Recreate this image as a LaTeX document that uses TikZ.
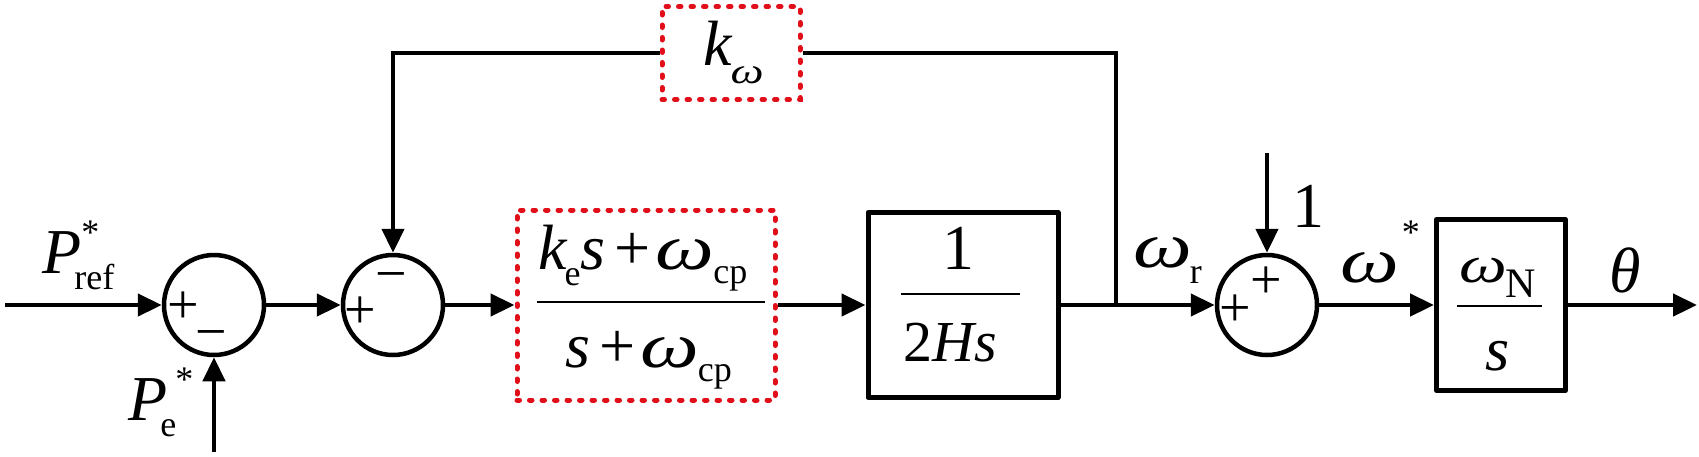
\documentclass[tikz,border=0pt]{standalone}
\usepackage{fontspec}
\usepackage{graphicx}
\setmainfont{Liberation Serif}
\usetikzlibrary{arrows.meta}
\definecolor{dred}{RGB}{225,15,25}
\newcommand{\bigf}{\fontsize{64}{66}\selectfont}
\newcommand{\smf}{\fontsize{36}{38}\selectfont}
\newcommand{\sbs}[2][-0.26em]{\raisebox{#1}{\smf #2}}
\newcommand{\sps}[2][0.45em]{\raisebox{#1}{\smf #2}}
\newcommand{\w}{\scalebox{1.3}[1]{\textit{ω}}}
\newcommand{\pls}{\kern9pt+\kern5pt}
\begin{document}
\begin{tikzpicture}[x=1pt,y=-1pt,
  wire/.style={line width=4.5pt},
  conn/.style={wire,-{Triangle[length=24pt,width=22pt]}},
  sumnode/.style={circle,draw,line width=4.5pt,minimum size=100pt,inner sep=0pt},
  blk/.style={draw,line width=5pt,inner sep=0pt,line join=round},
  redblk/.style={draw=dred,line width=5pt,dash pattern=on 2.5pt off 10pt,line cap=round,inner sep=0pt},
  lbl/.style={inner sep=0pt,font=\bigf},
  sign/.style={inner sep=0pt,font=\fontsize{56}{58}\selectfont,anchor=center},
  fracline/.style={line width=2.8pt}]
\useasboundingbox (0,0) rectangle (1699,456);
% summing junctions
\node[sumnode] (s1) at (214,305) {};
\node[sumnode] (s2) at (393,305) {};
\node[sumnode] (s3) at (1267,305) {};
% blocks
\node[redblk,minimum width=258pt,minimum height=190pt] (flt) at (646,305) {};
\node[blk,minimum width=190pt,minimum height=185pt] (hb) at (963,305) {};
\node[redblk,minimum width=138pt,minimum height=93pt] (kw) at (731,53) {};
\node[blk,minimum width=129pt,minimum height=171pt] (nb) at (1501,305) {};
% signs
\node[sign] (p1) at (183,308) {+};
\node[sign] (m1) at (211,340) {−};
\node[sign] (p2) at (360,313) {+};
\node[sign] (m2) at (391,282) {−};
\node[sign] (p3) at (1235,311) {+};
\node[sign] (p4) at (1266,283) {+};
% block contents
\node[lbl,anchor=base west] (fnum) at (538,269) {\textit{k}\kern-3pt\sbs{e}\textit{s}\pls\w\kern-1pt\sbs[-0.22em]{cp}};
\node[lbl,anchor=base west] (fden) at (565,367) {\textit{s}\pls\w\kern-1pt\sbs[-0.22em]{cp}};
\draw[fracline] (537,302) -- (765,302);
\node[inner sep=0pt,anchor=base,font=\fontsize{64}{66}\selectfont] (hnum) at (958,269) {1};
\node[inner sep=0pt,anchor=base west,font=\fontsize{58}{60}\selectfont] (hden) at (903,361) {2\textit{Hs}};
\draw[fracline] (901,294) -- (1020,294);
\node[inner sep=0pt,anchor=base west,font=\fontsize{52}{54}\selectfont] (nnum) at (1459,282) {\w\kern-1pt\raisebox{-0.3em}{\fontsize{42}{44}\selectfont N}};
\node[inner sep=0pt,anchor=base,font=\fontsize{62}{64}\selectfont] (nden) at (1498,370) {\textit{s}};
\draw[fracline] (1457,306) -- (1542,306);
\node[lbl,anchor=base west] (kwl) at (703,65) {\textit{k}\kern-2pt\sbs[-0.29em]{\scalebox{1.3}[1]{\textit{ω}}}};
% signal labels
\node[lbl,anchor=base west] (pref) at (42,273) {\textit{P}\rlap{\kern0pt\sps{*}}\kern-7pt\sbs{ref}};
\node[lbl,anchor=base west] (pel) at (128,420) {\textit{P}\kern-7pt\sbs{e}\kern-1pt\sps{*}};
\node[lbl,anchor=base west] (wrl) at (1133,267) {\w\kern-2pt\sbs{r}};
\node[lbl,anchor=base west] (wsl) at (1340,282) {\w\kern3pt\sps[0.58em]{*}};
\node[lbl,anchor=base] (onel) at (1308,227) {1};
\node[lbl,anchor=base] (thl) at (1625,292) {\textit{θ}};
% connectors
\coordinate (in) at (5,305);
\coordinate (pe) at (214,452);
\coordinate (br) at (1116,305);
\coordinate (one) at (1267,153);
\coordinate (out) at (1697,305);
\draw[conn] (in) -- (s1.west);
\draw[conn] (pe) -- (s1.south);
\draw[conn] (s1.east) -- (s2.west);
\draw[conn] (s2.east) -- (flt.west);
\draw[conn] (flt.east) -- (hb.west);
\draw[conn] (hb.east) -- (s3.west);
\draw[wire] (br) |- (kw.east);
\draw[conn] (kw.west) -| (s2.north);
\draw[conn] (one) -- (s3.north);
\draw[conn] (s3.east) -- (nb.west);
\draw[conn] (nb.east) -- (out);
\end{tikzpicture}
\end{document}
